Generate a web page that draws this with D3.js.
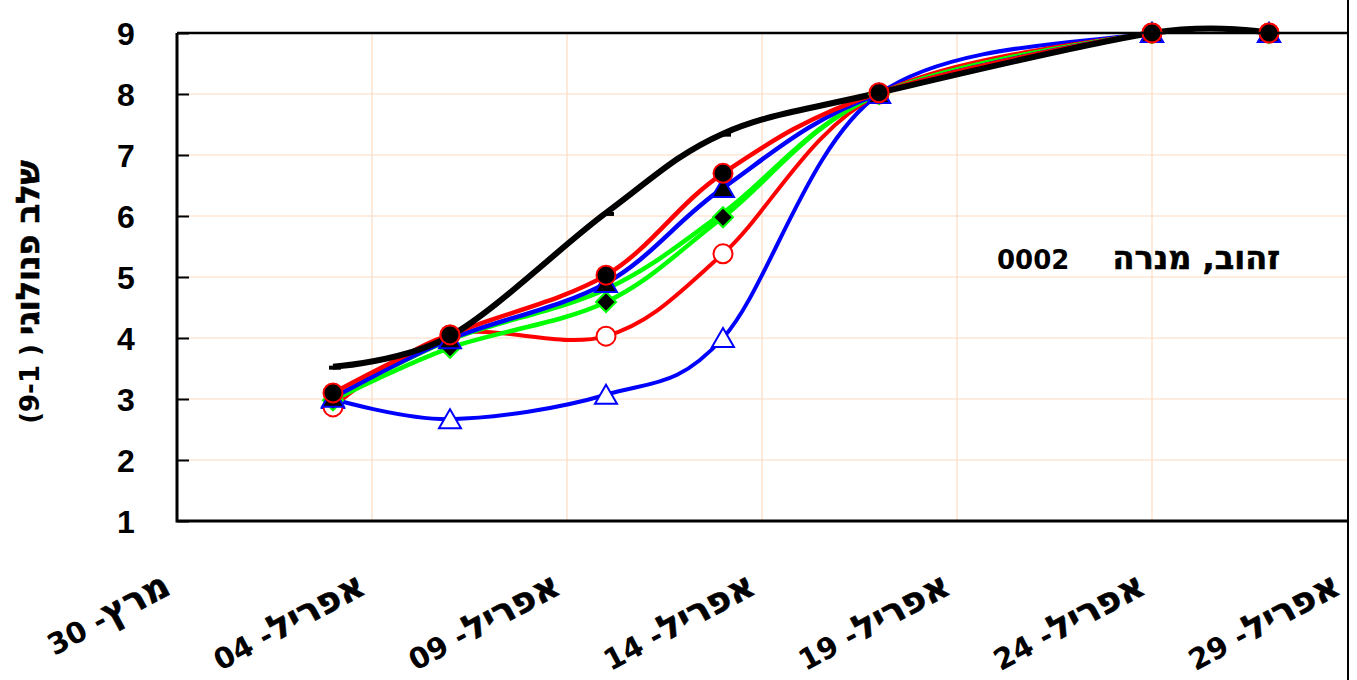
<!DOCTYPE html>
<html>
<head>
<meta charset="utf-8">
<script src="https://cdn.jsdelivr.net/npm/d3@7"></script>
<style>
  html, body { margin: 0; padding: 0; background: #fff; }
  svg { display: block; }
  .num { font-family: "Liberation Sans", Arial, sans-serif; font-weight: bold; fill: #000; }
  .lbl { font-family: "DejaVu Sans", sans-serif; font-weight: bold; fill: #000; }
  .heb { stroke: #000; stroke-width: 0.6; }
</style>
</head>
<body>
<svg id="chart" width="1357" height="680"></svg>
<script>
// chart of phenological stage

var tickDates = ["2000-03-30", "2000-04-04", "2000-04-09", "2000-04-14", "2000-04-19", "2000-04-24", "2000-04-29"];
var tickLabels = ["30 -מרץ", "04 -אפריל", "09 -אפריל", "14 -אפריל", "19 -אפריל", "24 -אפריל", "29 -אפריל"];
var yTicks = [1, 2, 3, 4, 5, 6, 7, 8, 9];

var obsDates = ["2000-04-03", "2000-04-06", "2000-04-10", "2000-04-13", "2000-04-17", "2000-04-24", "2000-04-27"];
var blackVals      = [3.53, 4.03, 6.05, 7.35, 8.02, 9.0, 9.0];
var redFilledVals  = [3.10, 4.05, 5.03, 6.70, 8.02, 9.0, 9.0];
var blueFilledVals = [3.02, 3.98, 4.90, 6.46, 8.00, 9.0, 9.0];
var greenDiaVals   = [2.98, 3.84, 4.59, 5.98, 8.00, 9.0, 9.0];
var greenVals      = [3.00, 3.97, 4.80, 6.05, 8.00, 9.0, 9.0];
var redOpenVals    = [2.87, 4.05, 4.03, 5.38, 8.00, 9.0, 9.0];
var blueOpenVals   = [3.00, 2.67, 3.07, 4.00, 8.00, 9.0, 9.0];

var yTitle = "(9-1 ) שלב פנולוגי";
var noteNum = "0002";
var noteText = "זהוב, מנרה";

var parse = d3.timeParse("%Y-%m-%d");
var svg = d3.select("#chart");

var L = 177, R = 1347, T = 33, B = 521;
var x = d3.scaleTime().domain([parse(tickDates[0]), parse(tickDates[tickDates.length - 1])]).range([L, R]);
var y = d3.scaleLinear().domain([1, 9]).range([B, T]);

// hebrew glyphs come out small in DejaVu, so they get their own bigger tspan
function fillMixed(sel, str, numSize, hebSize) {
  var m = str.match(/^([^\u0590-\u05FF]*)(.*)$/);
  sel.text(null);
  if (m[1]) sel.append("tspan").attr("font-size", numSize).text(m[1]);
  if (m[2]) sel.append("tspan").attr("class", "heb").attr("font-size", hebSize).text(m[2]);
}

// grid
var grid = svg.append("g");
grid.selectAll("line.h").data(yTicks.slice(1, -1)).enter().append("line")
  .attr("x1", L).attr("x2", R)
  .attr("y1", function(d) { return y(d); }).attr("y2", function(d) { return y(d); })
  .attr("stroke", "#fcdcc2").attr("stroke-width", 1.2);
grid.selectAll("line.v").data(tickDates.slice(1, -1)).enter().append("line")
  .attr("x1", function(d) { return x(parse(d)); }).attr("x2", function(d) { return x(parse(d)); })
  .attr("y1", T).attr("y2", B)
  .attr("stroke", "#fcdcc2").attr("stroke-width", 1.2);

// y axis labels
var yAxis = d3.axisLeft(y).tickValues(yTicks).tickFormat(d3.format("d")).tickSize(0).tickPadding(0);
var gy = svg.append("g").attr("transform", "translate(126,0)").call(yAxis);
gy.select(".domain").remove();
gy.selectAll("text").attr("class", "num").attr("font-size", 32).attr("text-anchor", "middle").attr("dy", "0.36em");

// inside tick marks
var yIn = d3.axisRight(y).tickValues(yTicks).tickSize(12).tickFormat("");
var gyi = svg.append("g").attr("transform", "translate(" + L + ",0)").call(yIn);
gyi.select(".domain").remove();
gyi.selectAll("line").attr("stroke", "#000").attr("stroke-width", 2);

// x axis labels
var xAxis = d3.axisBottom(x).tickValues(tickDates.map(parse))
  .tickFormat(function(d, i) { return tickLabels[i]; }).tickSize(0);
var gx = svg.append("g").attr("transform", "translate(0," + B + ")").call(xAxis);
gx.select(".domain").remove();
gx.selectAll("text").attr("class", "lbl")
  .attr("text-anchor", "end").attr("dy", 0).attr("y", 0)
  .attr("transform", "translate(-5,72) rotate(-28)")
  .each(function(d, i) { fillMixed(d3.select(this), tickLabels[i], 29, 36); });

// y title
var yt = svg.append("text").attr("class", "lbl")
  .attr("text-anchor", "middle")
  .attr("transform", "translate(39,292) rotate(-90)");
fillMixed(yt, yTitle, 26, 32);

// note
svg.append("text").attr("class", "lbl").attr("font-size", 26).attr("x", 997).attr("y", 269).text(noteNum);
svg.append("text").attr("class", "lbl heb").attr("font-size", 32).attr("x", 1280).attr("y", 269)
  .attr("text-anchor", "end").text(noteText);

// series
function pts(vals) {
  return vals.map(function(v, i) { return { d: parse(obsDates[i]), v: v }; });
}
var line = d3.line().x(function(p) { return x(p.d); }).y(function(p) { return y(p.v); })
  .curve(d3.curveCardinal.tension(0));

var series = [
  { vals: blueOpenVals, color: "#0000ff", w: 4 },
  { vals: redOpenVals, color: "#ff0000", w: 4 },
  { vals: greenVals, color: "#00ff00", w: 4.5 },
  { vals: greenDiaVals, color: "#00ff00", w: 4.5 },
  { vals: blueFilledVals, color: "#0000ff", w: 4.5 },
  { vals: redFilledVals, color: "#ff0000", w: 4.5 },
  { vals: blackVals, color: "#000000", w: 6 }
];
var plot = svg.append("g");
series.forEach(function(s) {
  plot.append("path").datum(pts(s.vals))
    .attr("d", line).attr("fill", "none")
    .attr("stroke", s.color).attr("stroke-width", s.w).attr("stroke-linejoin", "round");
});

// markers
var tri = "M0,-10L11,9L-11,9Z";
var dia = "M0,-10L10,0L0,10L-10,0Z";
function shapes(vals, path, fill, stroke) {
  plot.append("g").selectAll("path").data(pts(vals)).enter().append("path")
    .attr("d", path)
    .attr("transform", function(p) { return "translate(" + x(p.d) + "," + y(p.v) + ")"; })
    .attr("fill", fill).attr("stroke", stroke).attr("stroke-width", 2);
}
function circles(vals, fill, stroke) {
  plot.append("g").selectAll("circle").data(pts(vals)).enter().append("circle")
    .attr("cx", function(p) { return x(p.d); }).attr("cy", function(p) { return y(p.v); })
    .attr("r", 9.5).attr("fill", fill).attr("stroke", stroke).attr("stroke-width", 2);
}
plot.append("g").selectAll("rect").data(pts(blackVals)).enter().append("rect")
  .attr("x", function(p) { return x(p.d) - 4; }).attr("y", function(p) { return y(p.v) - 1; })
  .attr("width", 12).attr("height", 4).attr("fill", "#000");
shapes(blueOpenVals, tri, "#fff", "#0000ff");
circles(redOpenVals, "#fff", "#ff0000");
shapes(greenDiaVals, dia, "#000", "#00ff00");
shapes(blueFilledVals, tri, "#000", "#0000ff");
circles(redFilledVals, "#000", "#ff0000");

// frame
svg.append("path").attr("d", "M" + L + "," + T + "V" + B + "H" + R)
  .attr("fill", "none").attr("stroke", "#000").attr("stroke-width", 3);
svg.append("line").attr("x1", L).attr("x2", R + 1).attr("y1", T).attr("y2", T)
  .attr("stroke", "#000").attr("stroke-width", 2.5);
svg.append("line").attr("x1", R + 1).attr("x2", R + 1).attr("y1", 0).attr("y2", 680)
  .attr("stroke", "#000").attr("stroke-width", 2);
</script>
</body>
</html>
